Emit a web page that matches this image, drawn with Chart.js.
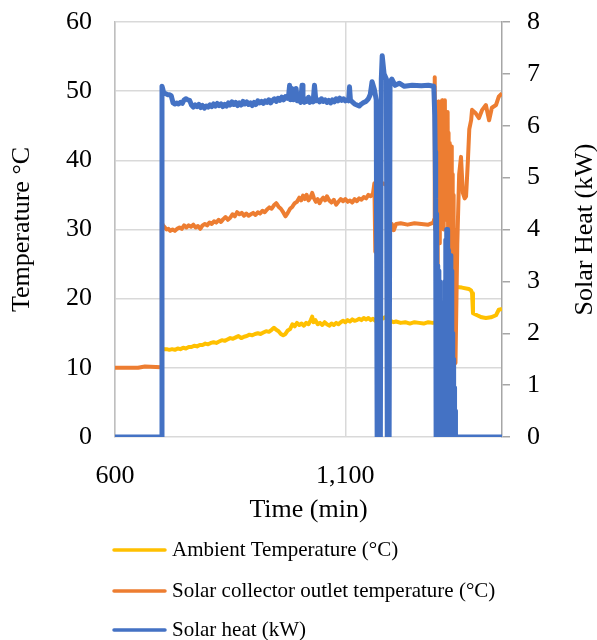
<!DOCTYPE html>
<html>
<head>
<meta charset="utf-8">
<script src="https://cdn.jsdelivr.net/npm/chart.js@4.4.1/dist/chart.umd.min.js"></script>
<style>
  html, body { margin: 0; padding: 0; background: #fff; }
  #wrap { width: 597px; height: 640px; }
</style>
</head>
<body>
<div id="wrap"><canvas id="solarChart" width="597" height="640"></canvas></div>
<script>
// x ticks (min)
const xTicks = [600, 1100];

// Ambient temperature (°C)
const ambientTime = [702, 706, 712, 718, 724, 730, 736, 742, 748, 754, 760, 766, 772, 778, 784, 790, 796, 802, 808, 814,
  820, 826, 832, 838, 844, 850, 856, 862, 868, 874, 880, 886, 892, 898, 904, 910, 916, 922, 928, 934,
  940, 945, 950, 955, 960, 965, 970, 975, 980, 985, 990, 995, 1000, 1005, 1010, 1015, 1020, 1025, 1028, 1031,
  1035, 1040, 1045, 1050, 1055, 1060, 1065, 1070, 1075, 1080, 1085, 1090, 1095, 1100, 1105, 1110, 1115, 1120, 1125, 1130,
  1135, 1140, 1145, 1150, 1155, 1160, 1165, 1170, 1175, 1180, 1185, 1190, 1195, 1200, 1205, 1210, 1220, 1230, 1240, 1250,
  1260, 1270, 1280, 1290, 1297, 1320, 1338, 1342, 1353, 1368, 1373, 1375, 1377, 1386, 1396, 1405, 1416, 1427, 1433, 1440];
const ambientTemp = [12.8, 12.7, 12.7, 12.6, 12.7, 12.6, 12.8, 12.7, 12.9, 12.8, 13.0, 13.0, 13.2, 13.1, 13.3, 13.3, 13.5, 13.4, 13.6, 13.7,
  13.6, 13.8, 14.0, 13.9, 14.1, 14.3, 14.2, 14.4, 14.6, 14.3, 14.5, 14.6, 14.8, 14.7, 14.9, 15.0, 14.9, 15.1, 15.3, 15.2,
  15.5, 15.8, 15.5, 15.3, 14.9, 14.7, 14.9, 15.4, 15.6, 16.3, 16.0, 16.5, 16.2, 16.4, 16.1, 16.5, 16.3, 16.9, 17.4, 16.6,
  16.9, 16.3, 16.5, 16.2, 16.6, 16.3, 16.1, 16.4, 16.2, 16.5, 16.3, 16.6, 16.8, 16.6, 16.9, 16.7, 17.0, 16.8, 16.9, 17.1,
  16.9, 17.2, 17.0, 17.2, 16.9, 17.1, 16.8, 17.0, 16.9, 17.1, 17.3, 17.2, 16.9, 16.7, 16.6, 16.7, 16.5, 16.6, 16.4, 16.6,
  16.5, 16.4, 16.6, 16.5, 16.6, 17.0, 21.7, 21.7, 21.6, 21.4, 21.2, 20.8, 17.9, 17.6, 17.3, 17.2, 17.3, 17.6, 18.4, 18.5];

// Solar collector outlet temperature (°C)
const outletTime = [600, 650, 665, 700, 701.5,
  702, 704, 708, 712, 716, 720, 725, 730, 735, 740, 745, 750, 755, 760, 765, 770, 775, 780, 785, 790,
  795, 800, 805, 810, 815, 820, 825, 830, 835, 840, 845, 850, 855, 860, 865, 870, 875, 880, 885, 890,
  895, 900, 905, 910, 915, 920, 925, 930, 935, 940, 945, 950, 955, 960, 965, 970, 975, 980, 985, 990,
  995, 1000, 1004, 1008, 1012, 1016, 1020, 1024, 1028, 1032, 1036, 1040, 1044, 1048, 1052, 1056, 1060, 1065, 1070, 1075,
  1080, 1085, 1090, 1095, 1100, 1105, 1110, 1115, 1120, 1125, 1130, 1135, 1140, 1145, 1150, 1155, 1160,
  1163, 1165, 1168, 1180, 1188, 1192, 1195, 1198, 1201, 1205, 1210, 1220, 1235, 1250, 1265, 1280, 1291, 1293, 1294,
  1295, 1296, 1297, 1298, 1299, 1300, 1301, 1302, 1303, 1304, 1305, 1306, 1307, 1308, 1309, 1310, 1311, 1312,
  1313, 1314, 1315, 1316, 1317, 1318, 1319, 1320, 1321, 1322, 1323, 1324, 1325, 1326, 1327, 1328, 1329, 1330,
  1331, 1332, 1333, 1334, 1335, 1336, 1337, 1338, 1339, 1343, 1347, 1351, 1355, 1359, 1362, 1366, 1369, 1373,
  1375, 1383, 1390, 1397, 1405, 1412, 1418, 1427, 1433, 1440];
const outletTemp = [10.0, 10.0, 10.2, 10.1, 10.0,
  31.0, 30.6, 30.3, 30.0, 30.1, 29.8, 30.0, 29.8, 30.1, 30.3, 30.1, 30.6, 30.3, 30.6, 30.4, 30.7, 30.3, 30.5, 30.1, 30.6,
  30.8, 30.6, 31.0, 30.8, 31.2, 31.0, 31.4, 31.1, 31.5, 31.8, 31.4, 31.7, 32.2, 31.9, 32.5, 32.2, 32.4, 32.0, 32.3, 32.0,
  32.2, 32.4, 32.1, 32.5, 32.3, 32.7, 32.5, 32.9, 33.2, 33.0, 33.5, 33.8, 33.3, 33.0, 32.5, 31.9, 32.4, 33.0, 33.3, 33.8,
  34.0, 34.6, 34.2, 34.9, 34.4, 35.0, 34.2, 34.6, 35.3, 34.5, 34.0, 34.4, 33.8, 34.3, 34.6, 34.2, 34.8, 34.2, 33.9, 34.3,
  33.6, 34.0, 34.4, 34.1, 34.4, 34.0, 34.2, 33.9, 34.4, 34.1, 34.5, 34.3, 34.7, 34.5, 35.0, 34.8, 35.2,
  36.7, 26.8, 36.5, 36.7, 36.5, 36.3, 30.4, 29.8, 30.8, 29.9, 30.8, 30.9, 30.7, 30.9, 30.8, 30.7, 31.0, 31.5, 52.0,
  30, 46, 27, 48, 25, 47, 30, 48.5, 33, 46, 28, 48, 35, 44, 31, 48.7, 36, 45,
  30, 47, 38, 48.7, 33, 46, 31.4, 44, 32, 47, 30, 44, 28, 42.5, 26, 41, 24, 42,
  20, 38, 17, 35, 14, 30, 11, 22, 10.7, 28, 38, 40.5, 35.3, 34.5, 34.8, 40.0, 44.5, 45.8,
  47.3, 46.8, 46.1, 47.3, 48.0, 45.8, 47.6, 48.0, 49.2, 49.7];

// Solar heat (kW)
const heatTime = [600, 701.5,
  702, 704, 706, 710, 714, 718, 722, 726, 730, 734, 738, 742, 746, 750, 754, 758, 762, 766,
  770, 774, 778, 782, 786, 790, 794, 798, 802, 806, 810, 814, 818, 822, 826, 830, 834, 838, 842, 846,
  850, 854, 858, 862, 866, 870, 874, 878, 882, 886, 890, 894, 898, 902, 906, 910, 914, 918, 922, 926,
  930, 934, 938, 942, 946, 950, 954, 958, 962, 966, 970, 974, 977, 979, 981, 984, 987, 990, 993, 996,
  1000, 1003, 1006, 1008, 1011, 1014, 1017, 1020, 1023, 1026, 1030, 1033, 1036, 1040, 1044, 1048, 1052, 1056, 1060, 1064,
  1068, 1072, 1076, 1080, 1084, 1088, 1092, 1096, 1100, 1104, 1107, 1109, 1111, 1115, 1120, 1125, 1130, 1135, 1140, 1145,
  1150, 1154, 1158, 1163, 1167, 1169, 1176, 1178, 1180, 1184, 1189, 1191, 1195, 1197, 1201,
  1208, 1217, 1228, 1245, 1265, 1280, 1292, 1294, 1295,
  1296, 1297, 1298, 1299, 1300, 1301, 1302, 1303, 1304, 1305, 1306, 1307, 1308, 1309, 1310, 1311, 1312, 1313,
  1314, 1315, 1316, 1317, 1318, 1319, 1320, 1321, 1322, 1323, 1324, 1325, 1326, 1327, 1328, 1329, 1330, 1331,
  1332, 1333, 1334, 1335, 1336, 1337, 1338, 1339, 1440];
const heatKw = [0, 0,
  6.76, 6.7, 6.62, 6.62, 6.6, 6.6, 6.58, 6.44, 6.42, 6.44, 6.42, 6.45, 6.43, 6.5, 6.52, 6.5, 6.49, 6.4,
  6.36, 6.4, 6.37, 6.41, 6.35, 6.39, 6.34, 6.38, 6.36, 6.4, 6.37, 6.42, 6.38, 6.43, 6.39, 6.42, 6.37, 6.41, 6.38, 6.44,
  6.4, 6.46, 6.41, 6.45, 6.39, 6.44, 6.4, 6.47, 6.42, 6.46, 6.41, 6.44, 6.39, 6.45, 6.41, 6.48, 6.44, 6.47, 6.43, 6.48,
  6.45, 6.5, 6.44, 6.49, 6.52, 6.47, 6.53, 6.49, 6.55, 6.5, 6.56, 6.53, 6.6, 6.78, 6.5, 6.72, 6.5, 6.55, 6.72, 6.48,
  6.52, 6.45, 6.78, 6.5, 6.45, 6.52, 6.47, 6.55, 6.45, 6.5, 6.46, 6.78, 6.48, 6.5, 6.46, 6.52, 6.47, 6.5, 6.45, 6.49,
  6.44, 6.5, 6.46, 6.52, 6.48, 6.53, 6.49, 6.52, 6.48, 6.5, 6.48, 6.75, 6.5, 6.46, 6.42, 6.4, 6.38, 6.42, 6.45, 6.47,
  6.52, 6.6, 6.85, 6.7, 6.5, 0, 0, 6.9, 7.35, 7.0, 6.9, 0, 0, 6.85, 6.9,
  6.78, 6.82, 6.76, 6.78, 6.77, 6.78, 6.76, 6.2, 5.5,
  4.6, 0, 4.3, 0, 3.3, 0, 3.2, 0, 3.0, 0, 2.6, 0, 2.4, 0, 2.3, 0, 2.3, 0,
  1.5, 0, 3.0, 0, 3.8, 0, 4.0, 0, 4.0, 0, 3.6, 0, 3.5, 0, 3.5, 0, 3.2, 0,
  2.0, 0, 1.5, 0, 0.95, 0, 0.5, 0, 0];

const zip = (xs, ys) => xs.map((x, i) => ({ x, y: ys[i] }));

const serif = '"Liberation Serif", "Times New Roman", serif';
const textColor = "#000";
const tickFont = { family: serif, size: 26 };
const titleFont = { family: serif, size: 26, lineHeight: 1 };

const legendItems = [
  { label: "Ambient Temperature (°C)", color: "#FFC000" },
  { label: "Solar collector outlet temperature (°C)", color: "#ED7D31" },
  { label: "Solar heat (kW)", color: "#4472C4" }
];

// right axis title reads bottom-to-top, and the legend is stacked under the x title
const extraText = {
  id: "extraText",
  afterDraw(chart) {
    const ctx = chart.ctx;
    const area = chart.chartArea;
    ctx.save();
    ctx.fillStyle = textColor;
    ctx.font = `26px ${serif}`;
    ctx.textAlign = "center";
    ctx.textBaseline = "middle";
    ctx.translate(585, (area.top + area.bottom) / 2);
    ctx.rotate(-Math.PI / 2);
    ctx.fillText("Solar Heat (kW)", 0, 0);
    ctx.restore();

    const rows = [550, 591, 630];
    ctx.save();
    ctx.font = `21px ${serif}`;
    ctx.textBaseline = "middle";
    ctx.textAlign = "left";
    legendItems.forEach((item, i) => {
      const y = rows[i];
      ctx.strokeStyle = item.color;
      ctx.lineWidth = 3.5;
      ctx.lineCap = "round";
      ctx.beginPath();
      ctx.moveTo(114, y);
      ctx.lineTo(165, y);
      ctx.stroke();
      ctx.fillStyle = textColor;
      ctx.fillText(item.label, 172, y);
    });
    ctx.restore();
  }
};

// vertical axes: fixed widths, no label overflow at the top
const fitVertical = width => axis => {
  axis.width = width;
  axis.paddingTop = 0;
  axis.paddingBottom = 0;
};

const lineStyle = { pointRadius: 0, tension: 0, fill: false, borderJoinStyle: "round" };

new Chart(document.getElementById("solarChart"), {
  type: "line",
  data: {
    datasets: [
      { label: "Solar heat (kW)", data: zip(heatTime, heatKw), borderColor: "#4472C4", borderWidth: 5, yAxisID: "y2", ...lineStyle },
      { label: "Solar collector outlet temperature (°C)", data: zip(outletTime, outletTemp), borderColor: "#ED7D31", borderWidth: 4, yAxisID: "y", ...lineStyle },
      { label: "Ambient Temperature (°C)", data: zip(ambientTime, ambientTemp), borderColor: "#FFC000", borderWidth: 4, yAxisID: "y", ...lineStyle }
    ]
  },
  options: {
    responsive: false,
    animation: false,
    layout: { padding: { top: 22, bottom: 113, left: 0, right: 0 } },
    plugins: { legend: { display: false }, tooltip: { enabled: false } },
    scales: {
      x: {
        type: "linear",
        min: 600,
        max: 1440,
        afterBuildTicks: axis => { axis.ticks = xTicks.map(v => ({ value: v })); },
        afterFit: axis => { axis.height = 90; axis.paddingLeft = 0; axis.paddingRight = 0; },
        grid: { color: "#d9d9d9", lineWidth: 1.5, drawTicks: false },
        border: { display: false },
        ticks: { font: tickFont, color: textColor, padding: 24, maxRotation: 0, callback: v => v.toLocaleString("en-US") },
        title: { display: true, text: "Time (min)", font: titleFont, color: textColor, padding: { top: 0, bottom: 4 } }
      },
      y: {
        position: "left",
        min: 0,
        max: 60,
        afterFit: fitVertical(115),
        grid: { color: "#d9d9d9", lineWidth: 1.5, drawTicks: false },
        border: { color: "#bfbfbf", width: 1.5 },
        ticks: { stepSize: 10, font: tickFont, color: textColor, padding: 23 },
        title: { display: true, text: "Temperature °C", font: titleFont, color: textColor, padding: { top: 9, bottom: 0 } }
      },
      y2: {
        position: "right",
        min: 0,
        max: 8,
        afterFit: fitVertical(95),
        grid: { drawOnChartArea: false, color: "#a6a6a6", tickLength: 8, lineWidth: 1.5 },
        border: { color: "#a6a6a6", width: 1.5 },
        ticks: { stepSize: 1, font: tickFont, color: textColor, padding: 17 },
        title: { display: false }
      }
    }
  },
  plugins: [extraText]
});
</script>
</body>
</html>
